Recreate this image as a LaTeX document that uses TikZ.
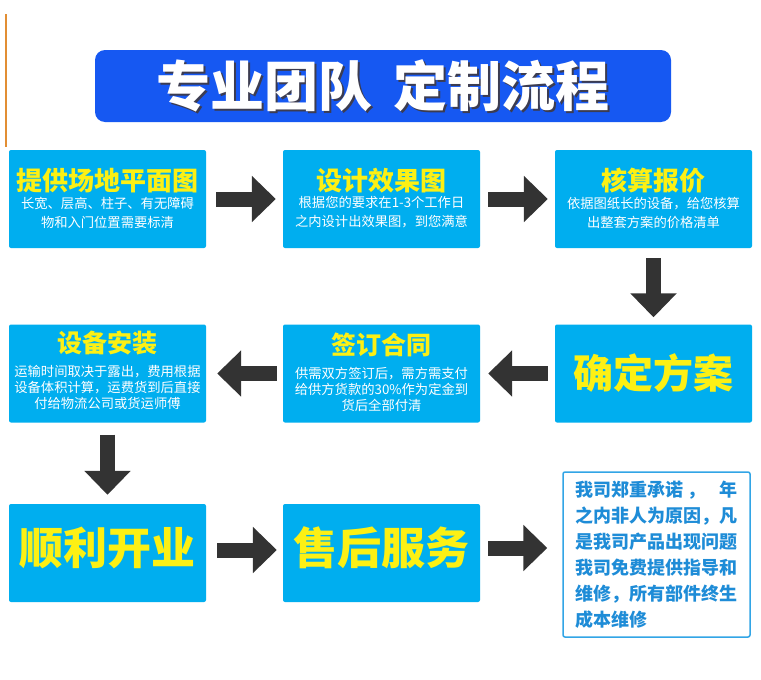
\documentclass[tikz,border=0pt]{standalone}
\usepackage{fontspec}
\setmainfont{Noto Sans CJK SC}
\usetikzlibrary{arrows.meta}
\definecolor{boxblue}{RGB}{0,174,239}
\definecolor{titleblue}{RGB}{22,88,242}
\definecolor{ttyellow}{RGB}{252,240,20}
\definecolor{arrowgray}{RGB}{51,51,51}
\definecolor{lineorange}{RGB}{226,142,52}
\definecolor{noteblue}{RGB}{30,140,215}
\definecolor{noteframe}{RGB}{50,165,230}
\definecolor{shadowgray}{RGB}{60,60,80}
\tikzset{
  stepbox/.style={fill=boxblue, rounded corners=2pt, minimum width=197pt, minimum height=98pt, inner sep=0pt},
  headtxt/.style={text=ttyellow, inner sep=0pt, font=\bfseries\fontsize{26}{26}\selectfont},
  desc/.style={text=white, inner sep=0pt, align=center, font=\fontsize{13.3}{19}\selectfont},
  descb/.style={desc, font=\fontsize{13.3}{16.3}\selectfont},
  bigtxt/.style={text=ttyellow, inner sep=0pt, font=\bfseries\fontsize{44}{44}\selectfont},
  blockarrow/.style={draw=arrowgray, line width=15pt, -{Triangle[width=45pt,length=24pt]}},
  titletxt/.style={inner sep=0pt, font=\bfseries\fontsize{54}{54}\selectfont},
}
\begin{document}
\begin{tikzpicture}[x=1pt,y=-1pt]
\useasboundingbox (0,0) rectangle (761,680);
\fill[white] (0,0) rectangle (761,680);
\draw[lineorange, line width=1.5pt] (6,14) -- (6,147);

% title
\node[fill=titleblue, rounded corners=10pt, minimum width=576pt, minimum height=72pt] (title) at (383,86) {};
\node[titletxt, text=shadowgray] (tshadow) at ([xshift=1.8pt, yshift=-2.2pt]title.center) {专业团队\hspace{0.4em}定制流程};
\node[titletxt, text=white] (ttext) at (title.center) {专业团队\hspace{0.4em}定制流程};

% row 1
\node[stepbox] (b1) at (107.5,199) {};
\node[stepbox] (b2) at (381.5,199) {};
\node[stepbox] (b3) at (653.5,199) {};
\node[headtxt] (h1) at (107.5,181) {提供场地平面图};
\node[desc] (d1) at (107.5,212.5) {长宽、层高、柱子、有无障碍\\物和入门位置需要标清};
\node[headtxt] (h2) at (381.5,181) {设计效果图};
\node[desc] (d2) at (381.5,212.5) {根据您的要求在1-3个工作日\\之内设计出效果图，到您满意};
\node[headtxt] (h3) at (653.5,181) {核算报价};
\node[desc] (d3) at (653.5,212.5) {依据图纸长的设备，给您核算\\出整套方案的价格清单};

% row 2
\node[stepbox] (b4) at (107.5,373.5) {};
\node[stepbox] (b5) at (381.5,373.5) {};
\node[stepbox] (b6) at (653.5,373.5) {};
\node[headtxt, font=\bfseries\fontsize{25}{25}\selectfont] (h4) at (107.5,343) {设备安装};
\node[descb] (d4) at (107.5,387.5) {运输时间取决于露出，费用根据\\设备体积计算，运费货到后直接\\付给物流公司或货运师傅};
\node[headtxt, font=\bfseries\fontsize{25}{25}\selectfont] (h5) at (381.5,345) {签订合同};
\node[descb] (d5) at (381.5,389.5) {供需双方签订后，需方需支付\\给供方货款的30\%作为定金到\\货后全部付清};
\node[bigtxt, font=\bfseries\fontsize{40}{40}\selectfont] (h6) at (653.5,373) {确定方案};

% row 3
\node[stepbox] (b7) at (107.5,553) {};
\node[stepbox] (b8) at (381.5,553) {};
\node[bigtxt] (h7) at (107.5,548) {顺利开业};
\node[bigtxt] (h8) at (381.5,548) {售后服务};
\node[draw=noteframe, line width=1.5pt, fill=white, rounded corners=2pt, minimum width=187pt, minimum height=165pt, inner sep=0pt] (note) at (656.5,554.5) {};
\node[text=noteblue, align=left, text width=163pt, inner sep=0pt, font=\bfseries\fontsize{18}{26}\selectfont] (notetxt) at (note.center) {我司郑重承诺\hspace{0.25em}，\hspace{0.75em}年\\之内非人为原因，凡\\是我司产品出现问题\\我司免费提供指导和\\维修，所有部件终生\\成本维修};

% arrows
\draw[blockarrow] ([xshift=10pt]b1.east) -- ([xshift=-7pt]b2.west);
\draw[blockarrow] ([xshift=8pt]b2.east) -- ([xshift=-7pt]b3.west);
\draw[blockarrow] ([yshift=-10pt]b3.south) -- ([yshift=7pt]b6.north);
\draw[blockarrow] ([xshift=-7pt]b6.west) -- ([xshift=8pt]b5.east);
\draw[blockarrow] ([xshift=-6pt]b5.west) -- ([xshift=11pt]b4.east);
\draw[blockarrow] ([yshift=-12pt]b4.south) -- ([yshift=9pt]b7.north);
\draw[blockarrow] ([xshift=11pt,yshift=3pt]b7.east) -- ([xshift=-6pt,yshift=3pt]b8.west);
\coordinate (a8s) at ([xshift=8pt,yshift=5pt]b8.east);
\draw[blockarrow] (a8s) -- ([xshift=-15pt]note.west |- a8s);
\end{tikzpicture}
\end{document}
